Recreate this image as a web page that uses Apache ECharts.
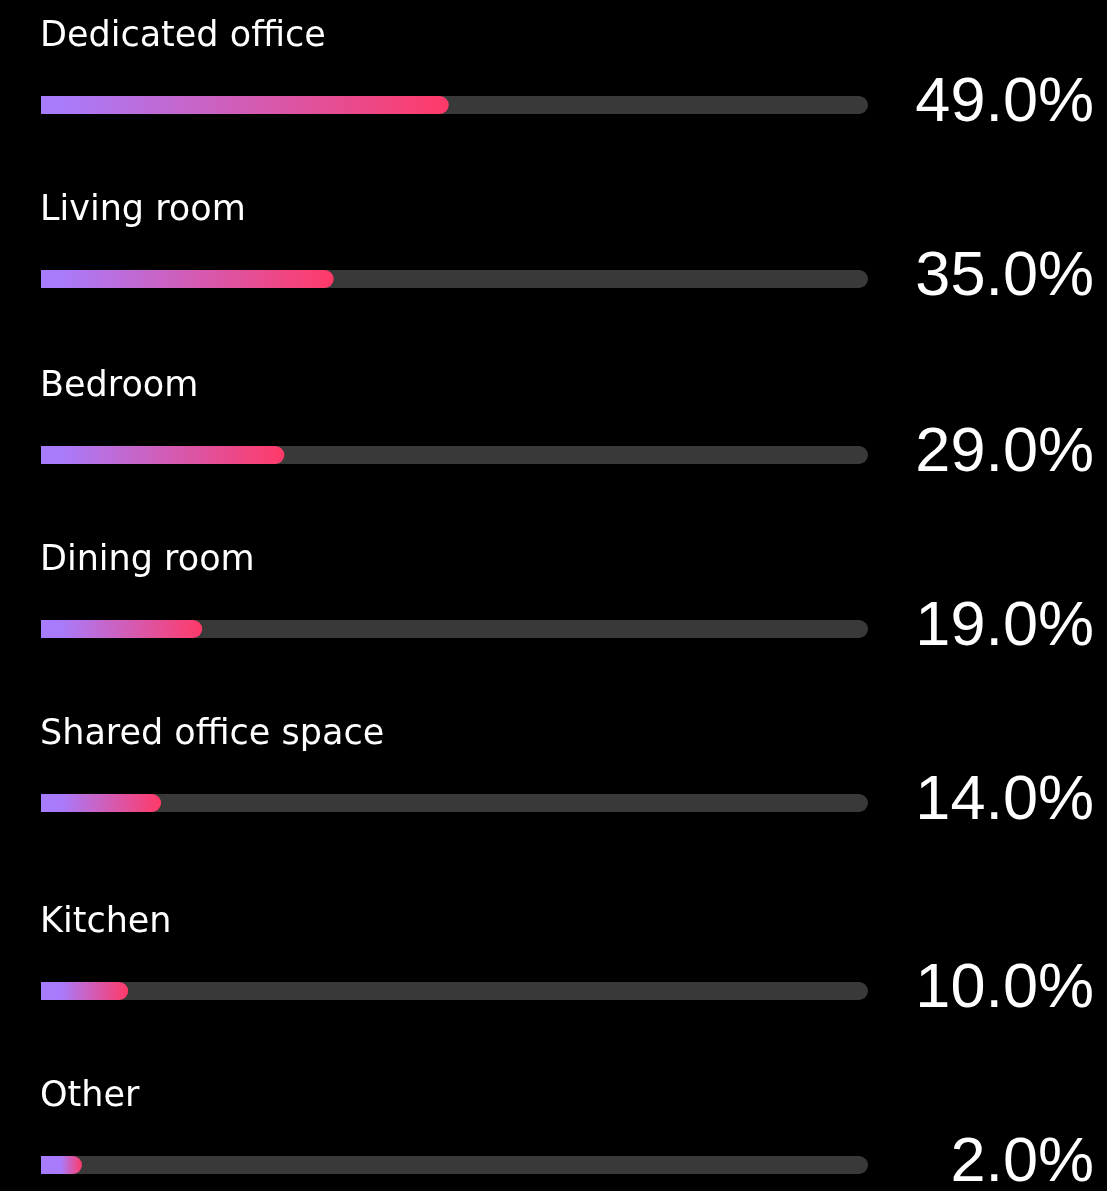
<!DOCTYPE html>
<html>
<head>
<meta charset="utf-8">
<script src="https://cdn.jsdelivr.net/npm/echarts@6/dist/echarts.min.js"></script>
<style>
    html, body {
        margin: 0;
        padding: 0;
        background-color: #000;
    }
    #mainChart {
        width: 1107px;
        height: 1191px;
    }
</style>
</head>
<body>
<div id="mainChart"></div>
<script>
    // data
    var categories = ['Dedicated office', 'Living room', 'Bedroom', 'Dining room', 'Shared office space', 'Kitchen', 'Other'];
    var shares = [49.0, 35.0, 29.0, 19.0, 14.0, 10.0, 2.0];

    // layout: vertical centre of each bar, in px
    var rowCenters = [105, 279, 455, 629, 803, 991, 1165];

    var barH = 18;
    var chart = echarts.init(document.getElementById('mainChart'));

    var grids = [], xAxes = [], yAxes = [], series = [];

    function renderShare(params, api) {
        var zero = api.coord([0, 0]);
        var end = api.coord([api.value(0), 0]);
        var full = api.coord([100, 0]);
        var x0 = zero[0] - 5;
        var w = Math.max(end[0] - x0, 41);
        var stub = Math.min(20 / w, 0.9);
        return {
            type: 'group',
            children: [
                {
                    type: 'rect',
                    shape: { x: x0, y: end[1] - barH / 2, width: w, height: barH, r: [0, 9, 9, 0] },
                    style: {
                        fill: new echarts.graphic.LinearGradient(0, 0, 1, 0, [
                            { offset: 0, color: '#a87cff' },
                            { offset: stub, color: '#a97bfb' },
                            { offset: 1, color: '#ff3a68' }
                        ])
                    }
                },
                {
                    type: 'text',
                    style: {
                        text: categories[params.seriesIndex / 2 | 0],
                        x: x0 - 1,
                        y: end[1] - 68,
                        fill: '#fff',
                        fontSize: 35,
                        fontFamily: 'DejaVu Sans',
                        align: 'left',
                        verticalAlign: 'middle'
                    }
                },
                {
                    type: 'text',
                    style: {
                        text: api.value(0).toFixed(1) + '%',
                        x: full[0] + 226,
                        y: end[1] - 1.5,
                        fill: '#fff',
                        fontSize: 63,
                        fontFamily: 'Liberation Sans',
                        align: 'right',
                        verticalAlign: 'middle'
                    }
                }
            ]
        };
    }

    categories.forEach(function (name, i) {
        grids.push({ left: 46, right: 239, top: rowCenters[i] - barH / 2, height: barH });
        xAxes.push({ gridIndex: i, type: 'value', min: 0, max: 100, show: false });
        yAxes.push({ gridIndex: i, type: 'category', data: [name], show: false });
        // grey track
        series.push({
            type: 'bar',
            xAxisIndex: i,
            yAxisIndex: i,
            data: [100],
            barWidth: barH,
            silent: true,
            z: 1,
            itemStyle: { color: '#393939', borderRadius: 9 }
        });
        // coloured share bar + texts
        series.push({
            type: 'custom',
            xAxisIndex: i,
            yAxisIndex: i,
            data: [[shares[i], 0]],
            encode: { x: 0, y: 1 },
            z: 5,
            renderItem: renderShare
        });
    });

    var option = {
        backgroundColor: '#000',
        animation: false,
        grid: grids,
        xAxis: xAxes,
        yAxis: yAxes,
        series: series
    };

    chart.setOption(option);
</script>
</body>
</html>
